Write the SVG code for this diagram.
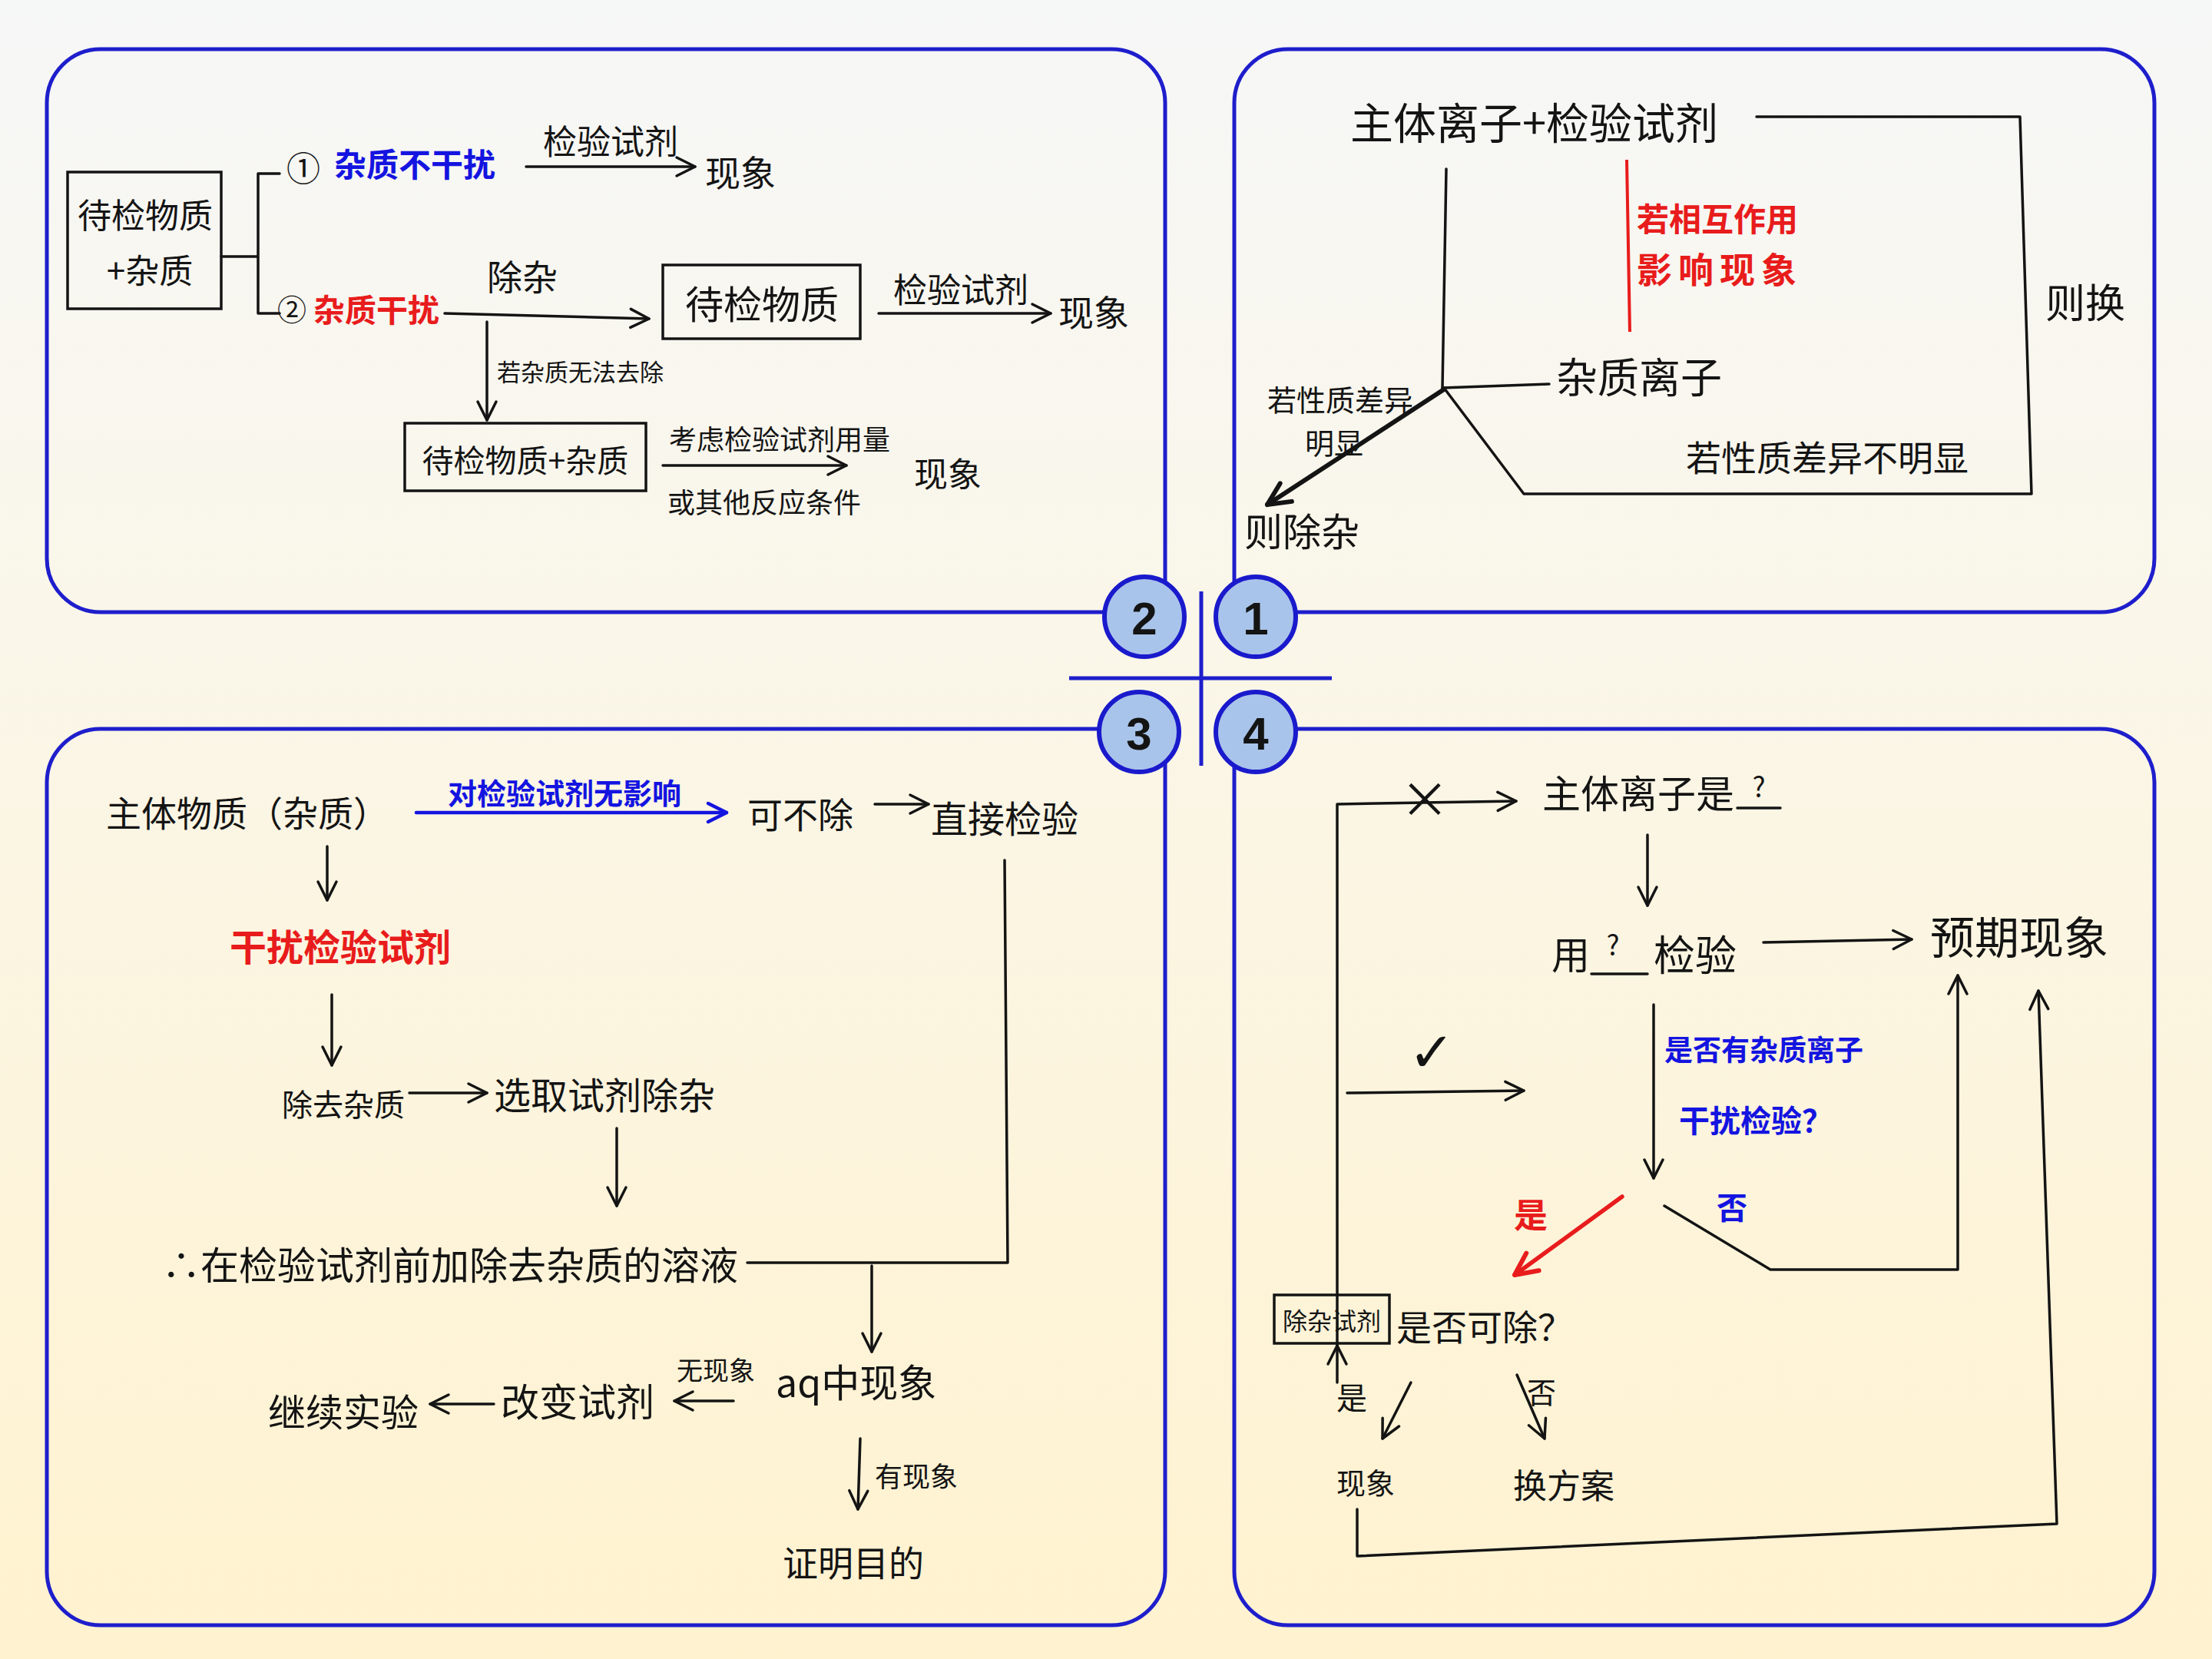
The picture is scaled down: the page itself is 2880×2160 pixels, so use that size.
<svg xmlns="http://www.w3.org/2000/svg" width="2880" height="2160" viewBox="0 0 2880 2160">
<defs>
<linearGradient id="bg" x1="0" y1="0" x2="0" y2="1">
<stop offset="0" stop-color="#F6F7F7"/>
<stop offset="0.4" stop-color="#FAF6E8"/>
<stop offset="1" stop-color="#FFF2CF"/>
</linearGradient>
<marker id="ak" markerUnits="userSpaceOnUse" markerWidth="34" markerHeight="34" viewBox="0 0 34 34" refX="30" refY="17" orient="auto">
<path d="M6,5 L30,17 L6,29" fill="none" stroke="#141414" stroke-width="3.5" stroke-linecap="round" stroke-linejoin="round"/>
</marker>
<marker id="ab" markerUnits="userSpaceOnUse" markerWidth="34" markerHeight="34" viewBox="0 0 34 34" refX="30" refY="17" orient="auto">
<path d="M6,5 L30,17 L6,29" fill="none" stroke="#1414E0" stroke-width="4.5" stroke-linecap="round" stroke-linejoin="round"/>
</marker>
<marker id="ar" markerUnits="userSpaceOnUse" markerWidth="40" markerHeight="40" viewBox="0 0 40 40" refX="35" refY="20" orient="auto">
<path d="M6,6 L35,20 L6,34" fill="none" stroke="#E81C1C" stroke-width="6" stroke-linecap="round" stroke-linejoin="round"/>
</marker>
<marker id="akb" markerUnits="userSpaceOnUse" markerWidth="40" markerHeight="40" viewBox="0 0 40 40" refX="35" refY="20" orient="auto">
<path d="M6,6 L35,20 L6,34" fill="none" stroke="#141414" stroke-width="6" stroke-linecap="round" stroke-linejoin="round"/>
</marker>
</defs>
<style>
text{font-family:"Noto Sans CJK SC","Noto Sans",sans-serif;fill:#141414;dominant-baseline:central}
.m{text-anchor:middle}
.b{fill:#1414E0;font-weight:700}
.r{fill:#E81C1C;font-weight:700}
.panel{fill:none;stroke:#1E1ECC;stroke-width:5}
.badge{fill:#A9C4EA;stroke:#1A1ACC;stroke-width:6}
.num{font-family:"Liberation Sans",Arial,sans-serif;font-weight:700;font-size:60px;text-anchor:middle}
.bx{fill:none;stroke:#141414;stroke-width:3.5}
.ln{fill:none;stroke:#141414;stroke-width:3.5;stroke-linecap:round;stroke-linejoin:round}
.lk{fill:none;stroke:#141414;stroke-width:3.5;stroke-linecap:round;stroke-linejoin:round;marker-end:url(#ak)}
.lb{fill:none;stroke:#1414E0;stroke-width:4.5;stroke-linecap:round;marker-end:url(#ab)}
.lr{fill:none;stroke:#E81C1C;stroke-width:5.5;stroke-linecap:round;marker-end:url(#ar)}
.cross{stroke:#1E1ECC;stroke-width:5}
</style>
<rect width="2880" height="2160" fill="url(#bg)"/>

<g id="panels">
<path class="panel" d="M131,64 H1447 A70,70 0 0 1 1517,134 V797 H131 A70,70 0 0 1 61,727 V134 A70,70 0 0 1 131,64 Z"/>
<path class="panel" d="M1677,64 H2735 A70,70 0 0 1 2805,134 V727 A70,70 0 0 1 2735,797 H1607 V134 A70,70 0 0 1 1677,64 Z"/>
<path class="panel" d="M61,1019 A70,70 0 0 1 131,949 H1517 V2046 A70,70 0 0 1 1447,2116 H131 A70,70 0 0 1 61,2046 Z"/>
<path class="panel" d="M1607,949 H2735 A70,70 0 0 1 2805,1019 V2046 A70,70 0 0 1 2735,2116 H1677 A70,70 0 0 1 1607,2046 Z"/>
<line class="cross" x1="1564" y1="770" x2="1564" y2="997"/>
<line class="cross" x1="1392" y1="883" x2="1734" y2="883"/>
</g>

<g id="badge-2"><circle class="badge" cx="1490" cy="803" r="52"/><text class="num" x="1490" y="805">2</text></g>
<g id="badge-1"><circle class="badge" cx="1635" cy="803" r="52"/><text class="num" x="1635" y="805">1</text></g>
<g id="badge-3"><circle class="badge" cx="1483" cy="953" r="52"/><text class="num" x="1483" y="955">3</text></g>
<g id="badge-4"><circle class="badge" cx="1635" cy="953" r="52"/><text class="num" x="1635" y="955">4</text></g>

<g id="connectors">
<!-- panel 2 -->
<path class="ln" d="M288,334 H336 M364,226 H336 V408 H364"/>
<line class="lk" x1="685" y1="217" x2="905" y2="217"/>
<line class="lk" x1="579" y1="408" x2="845" y2="415"/>
<line class="lk" x1="1144" y1="408" x2="1368" y2="408"/>
<line class="lk" x1="634" y1="419" x2="634" y2="547"/>
<line class="lk" x1="863" y1="606" x2="1102" y2="606"/>
<!-- panel 1 -->
<path class="ln" d="M2287,152 H2630 L2645,643 H1984 L1880,505"/>
<line class="ln" x1="1883" y1="220" x2="1878" y2="505"/>
<line class="ln" x1="1878" y1="505" x2="2017" y2="500"/>
<line x1="2118" y1="208" x2="2122" y2="432" stroke="#E81C1C" stroke-width="4"/>
<line x1="1880" y1="507" x2="1650" y2="657" fill="none" stroke="#141414" stroke-width="6" stroke-linecap="round" marker-end="url(#akb)"/>
<!-- panel 3 -->
<line class="lb" x1="542" y1="1058" x2="946" y2="1058"/>
<line class="lk" x1="1139" y1="1047" x2="1209" y2="1047"/>
<path class="ln" d="M1308,1120 L1312,1644 H973"/>
<line class="lk" x1="1135" y1="1648" x2="1135" y2="1760"/>
<line class="lk" x1="426" y1="1102" x2="426" y2="1172"/>
<line class="lk" x1="432" y1="1295" x2="432" y2="1387"/>
<line class="lk" x1="533" y1="1423" x2="634" y2="1423"/>
<line class="lk" x1="803" y1="1469" x2="803" y2="1570"/>
<line class="lk" x1="955" y1="1824" x2="878" y2="1824"/>
<line class="lk" x1="643" y1="1828" x2="560" y2="1828"/>
<line class="lk" x1="1120" y1="1873" x2="1117" y2="1965"/>
<!-- panel 4 -->
<path class="lk" d="M1741,1752 V1047 L1974,1043"/>
<line class="lk" x1="1741" y1="1800" x2="1741" y2="1752"/>
<line class="lk" x1="2145" y1="1087" x2="2145" y2="1179"/>
<line class="lk" x1="2296" y1="1227" x2="2489" y2="1223"/>
<line class="lk" x1="2153" y1="1308" x2="2153" y2="1534"/>
<line class="lk" x1="1754" y1="1423" x2="1984" y2="1420"/>
<line class="lr" x1="2112" y1="1558" x2="1972" y2="1660"/>
<path class="lk" d="M2167,1570 L2305,1653 H2549 V1270"/>
<path class="lk" d="M1767,1965 V2026 L2678,1984 L2654,1290"/>
<line class="lk" x1="1837" y1="1800" x2="1800" y2="1873"/>
<line class="lk" x1="1975" y1="1790" x2="2011" y2="1873"/>
</g>

<!-- panel 2 nodes -->
<g id="n-mixture"><rect class="bx" x="88" y="224" width="200" height="178"/>
<text class="m" x="189" y="278" font-size="44">待检物质</text>
<text class="m" x="195" y="350" font-size="44">+杂质</text></g>
<g id="n-case1"><text class="m" x="395" y="217" font-size="44">①</text>
<text class="b" x="435" y="211" font-size="42">杂质不干扰</text></g>
<g id="lbl-reagent1"><text class="m" x="795" y="182" font-size="44">检验试剂</text></g>
<g id="n-phen1"><text x="918" y="222" font-size="46">现象</text></g>
<g id="n-case2"><text class="m" x="380" y="400" font-size="38">②</text>
<text class="r" x="408" y="401" font-size="41">杂质干扰</text></g>
<g id="lbl-remove"><text class="m" x="680" y="358" font-size="46">除杂</text></g>
<g id="n-pure"><rect class="bx" x="863" y="345" width="257" height="96"/>
<text class="m" x="992" y="393" font-size="50">待检物质</text></g>
<g id="lbl-reagent2"><text class="m" x="1251" y="375" font-size="44">检验试剂</text></g>
<g id="n-phen2"><text x="1378" y="404" font-size="46">现象</text></g>
<g id="lbl-cannot"><text x="647" y="482" font-size="31">若杂质无法去除</text></g>
<g id="n-mix2"><rect class="bx" x="527" y="551" width="314" height="88"/>
<text class="m" x="684" y="597" font-size="41">待检物质+杂质</text></g>
<g id="lbl-consider"><text class="m" x="1015" y="570" font-size="36">考虑检验试剂用量</text>
<text class="m" x="995" y="652" font-size="36">或其他反应条件</text></g>
<g id="n-phen3"><text x="1190" y="615" font-size="44">现象</text></g>

<!-- panel 1 nodes -->
<g id="n-main"><text x="1758" y="156" font-size="56">主体离子+检验试剂</text></g>
<g id="lbl-interact"><text class="r" x="2131" y="282" font-size="42">若相互作用</text>
<text class="r" x="2131" y="348" font-size="46" letter-spacing="8">影响现象</text></g>
<g id="lbl-swap"><text x="2663" y="391" font-size="52">则换</text></g>
<g id="n-impurity"><text x="2026" y="488" font-size="54">杂质离子</text></g>
<g id="lbl-obvious"><text class="m" x="1745" y="518" font-size="38">若性质差异</text>
<text class="m" x="1737" y="574" font-size="38">明显</text></g>
<g id="n-remove"><text x="1620" y="689" font-size="50">则除杂</text></g>
<g id="lbl-notobvious"><text x="2195" y="593" font-size="46">若性质差异不明显</text></g>

<!-- panel 3 nodes -->
<g id="n-subject"><text x="138" y="1056" font-size="46">主体物质（杂质）</text></g>
<g id="lbl-noeffect"><text class="b m" x="735" y="1030" font-size="38">对检验试剂无影响</text></g>
<g id="n-keep"><text x="973" y="1058" font-size="46">可不除</text></g>
<g id="n-direct"><text x="1212" y="1063" font-size="48">直接检验</text></g>
<g id="n-interfere"><text class="r" x="299" y="1230" font-size="48">干扰检验试剂</text></g>
<g id="n-removeimp"><text x="367" y="1436" font-size="40">除去杂质</text></g>
<g id="n-choose"><text x="643" y="1423" font-size="48">选取试剂除杂</text></g>
<g id="n-add"><text x="211" y="1644" font-size="50">∴在检验试剂前加除去杂质的溶液</text></g>
<g id="n-aq"><text x="1010" y="1797" font-size="50">aq中现象</text></g>
<g id="lbl-none"><text class="m" x="932" y="1782" font-size="34">无现象</text></g>
<g id="n-change"><text x="652" y="1822" font-size="50">改变试剂</text></g>
<g id="n-continue"><text x="349" y="1835" font-size="49">继续实验</text></g>
<g id="lbl-has"><text x="1139" y="1920" font-size="36">有现象</text></g>
<g id="n-prove"><text x="1019" y="2032" font-size="46">证明目的</text></g>

<!-- panel 4 nodes -->
<g id="n-which"><text x="2008" y="1030" font-size="50">主体离子是</text>
<line class="ln" x1="2262" y1="1052" x2="2318" y2="1052"/>
<text class="m" x="2290" y="1022" font-size="36">?</text></g>
<g id="lbl-x"><text class="m" x="1855" y="1036" font-size="64">×</text></g>
<g id="n-use"><text x="2020" y="1240" font-size="50">用</text>
<line class="ln" x1="2072" y1="1268" x2="2145" y2="1268"/>
<text class="m" x="2100" y="1228" font-size="36">?</text>
<text x="2153" y="1240" font-size="54">检验</text></g>
<g id="n-expected"><text x="2513" y="1217" font-size="58">预期现象</text></g>
<g id="lbl-question"><text class="b" x="2167" y="1365" font-size="37">是否有杂质离子</text>
<text class="b" x="2186" y="1457" font-size="40">干扰检验？</text></g>
<g id="lbl-check"><text class="m" x="1864" y="1370" font-size="72" style="font-family:'DejaVu Sans',sans-serif">✓</text></g>
<g id="lbl-yes-red"><text class="r m" x="1993" y="1580" font-size="44">是</text></g>
<g id="lbl-no-blue"><text class="b m" x="2255" y="1570" font-size="40">否</text></g>
<g id="n-canremove"><rect class="bx" x="1659" y="1686" width="150" height="63" fill="#FFF4D6"/>
<text class="m" x="1734" y="1718" font-size="32">除杂试剂</text>
<text x="1818" y="1725" font-size="46">是否可除？</text></g>
<g id="lbl-yes"><text class="m" x="1760" y="1818" font-size="40">是</text></g>
<g id="lbl-no"><text class="m" x="2007" y="1810" font-size="38">否</text></g>
<g id="n-phen4"><text class="m" x="1778" y="1928" font-size="38">现象</text></g>
<g id="n-plan"><text x="1970" y="1932" font-size="44">换方案</text></g>
</svg>
